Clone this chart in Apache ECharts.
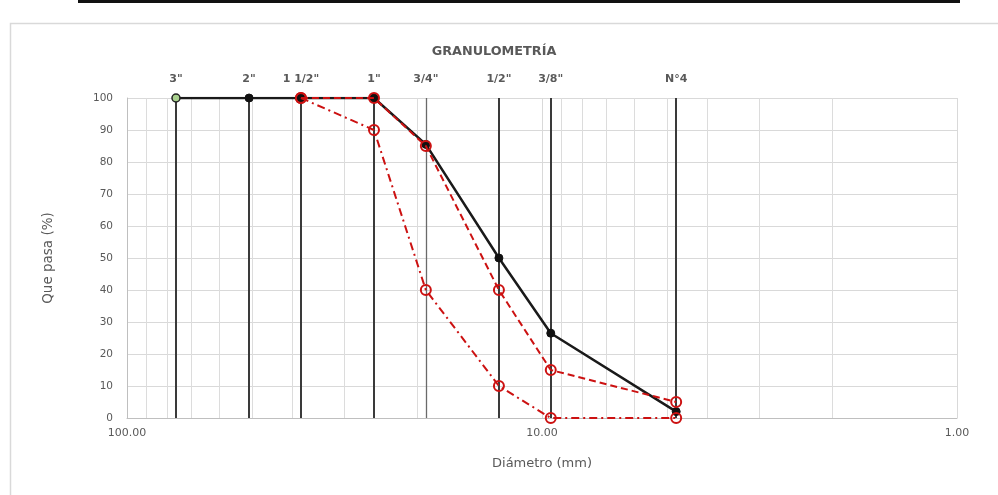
<!DOCTYPE html>
<html>
<head>
<meta charset="utf-8">
<script src="https://cdn.jsdelivr.net/npm/echarts@6/dist/echarts.min.js"></script>
<style>html,body{margin:0;padding:0;background:#fff}#c{width:998px;height:495px}</style>
</head>
<body>
<div id="c"></div>
<script>
// ---- data ----
const sieveNames = ['3"', '2"', '1 1/2"', '1"', '3/4"', '1/2"', '3/8"', 'N°4'];
const sieveSizes = [76.2, 50.8, 38.1, 25.4, 19.05, 12.7, 9.525, 4.75];
const muestra    = [100, 100, 100, 100, 85.5, 50, 26.5, 2];
const limiteSup  = [null, null, 100, 100, 85, 40, 15, 5];
const limiteInf  = [null, null, 100, 90, 40, 10, 0, 0];
const minorGrid  = [90, 80, 70, 60, 50, 40, 30, 20, 9, 8, 7, 6, 5, 4, 3, 2];
const yTicks     = [0, 10, 20, 30, 40, 50, 60, 70, 80, 90, 100];

const FONT = '"DejaVu Sans"';
const TXT = '#595959';
const RED = '#cc1111';

function pairs(vals) {
  const out = [];
  vals.forEach((v, i) => { if (v !== null) out.push([sieveSizes[i], v]); });
  return out;
}

const muestraData = pairs(muestra).map((p, i) => i === 0
  ? { value: p, itemStyle: { color: '#a9d18e', borderColor: '#222', borderWidth: 1.5 } }
  : { value: p });

const chart = echarts.init(document.getElementById('c'), null, { renderer: 'canvas' });
chart.setOption({
  animation: false,
  backgroundColor: '#fff',
  textStyle: { fontFamily: FONT },
  title: {
    text: 'GRANULOMETRÍA', left: 489, top: 40, textAlign: 'center',
    textStyle: { fontFamily: FONT, fontSize: 12.8, fontWeight: 'bold', color: TXT }
  },
  graphic: [
    { type: 'rect', shape: { x: 78, y: 0, width: 882, height: 3 }, style: { fill: '#111' }, silent: true },
    { type: 'rect', shape: { x: 10.5, y: 23.5, width: 1000, height: 500 }, style: { fill: 'none', stroke: '#d9d9d9', lineWidth: 1.5 }, silent: true }
  ],
  grid: { left: 127, right: 41, top: 98, bottom: 77 },
  xAxis: {
    type: 'log', logBase: 10, min: 1, max: 100, inverse: true,
    name: 'Diámetro (mm)', nameLocation: 'middle', nameGap: 39,
    nameTextStyle: { fontFamily: FONT, fontSize: 13, color: TXT },
    axisLine: { show: true, lineStyle: { color: '#bfbfbf', width: 1 } },
    axisTick: { show: false },
    axisLabel: { fontFamily: FONT, fontSize: 11, color: TXT, margin: 10, formatter: v => Number(v).toFixed(2) },
    splitLine: { show: true, lineStyle: { color: '#d9d9d9', width: 1 } }
  },
  yAxis: {
    type: 'value', min: 0, max: 100, interval: 10,
    name: 'Que pasa (%)', nameLocation: 'middle', nameGap: 72, nameRotate: 90,
    nameTextStyle: { fontFamily: FONT, fontSize: 13.5, color: TXT },
    axisLine: { show: true, lineStyle: { color: '#bfbfbf', width: 1 } },
    axisTick: { show: false },
    axisLabel: { fontFamily: FONT, fontSize: 10.5, color: TXT, margin: 14,
      formatter: v => yTicks.includes(v) ? String(v) : '' },
    splitLine: { show: true, lineStyle: { color: '#d9d9d9', width: 1 } }
  },
  series: [
    {
      name: 'minor', type: 'line', data: [], silent: true, z: 1,
      markLine: {
        silent: true, symbol: ['none', 'none'], animation: false,
        label: { show: false },
        lineStyle: { color: '#dcdcdc', width: 1, type: 'solid' },
        data: minorGrid.map(v => ({ xAxis: v }))
      }
    },
    {
      name: 'tamices', type: 'line', data: [], silent: true, z: 2,
      markLine: {
        silent: true, symbol: ['none', 'none'], animation: false,
        label: { show: true, position: 'end', distance: 13, formatter: '{b}',
          fontFamily: FONT, fontSize: 11, fontWeight: 'bold', color: TXT },
        lineStyle: { color: '#3a3a3a', width: 2, type: 'solid' },
        data: sieveSizes.map((s, i) => ({
          name: sieveNames[i], xAxis: s,
          lineStyle: i === 4 ? { color: '#6a6a6a', width: 1.3, type: 'solid' } : undefined
        }))
      }
    },
    {
      name: 'Muestra', type: 'line', data: muestraData, z: 5,
      symbol: 'circle', symbolSize: 8,
      lineStyle: { color: '#1a1a1a', width: 2.5 },
      itemStyle: { color: '#111', borderColor: '#111' }
    },
    {
      name: 'Límite superior', type: 'line', data: pairs(limiteSup), z: 6,
      symbol: 'circle', symbolSize: 10,
      lineStyle: { color: RED, width: 2, type: [7, 4] },
      itemStyle: { color: 'rgba(0,0,0,0)', borderColor: RED, borderWidth: 2 }
    },
    {
      name: 'Límite inferior', type: 'line', data: pairs(limiteInf), z: 6,
      symbol: 'circle', symbolSize: 10,
      lineStyle: { color: RED, width: 2, type: [8, 4, 2, 4] },
      itemStyle: { color: 'rgba(0,0,0,0)', borderColor: RED, borderWidth: 2 }
    }
  ]
});
</script>
</body>
</html>
